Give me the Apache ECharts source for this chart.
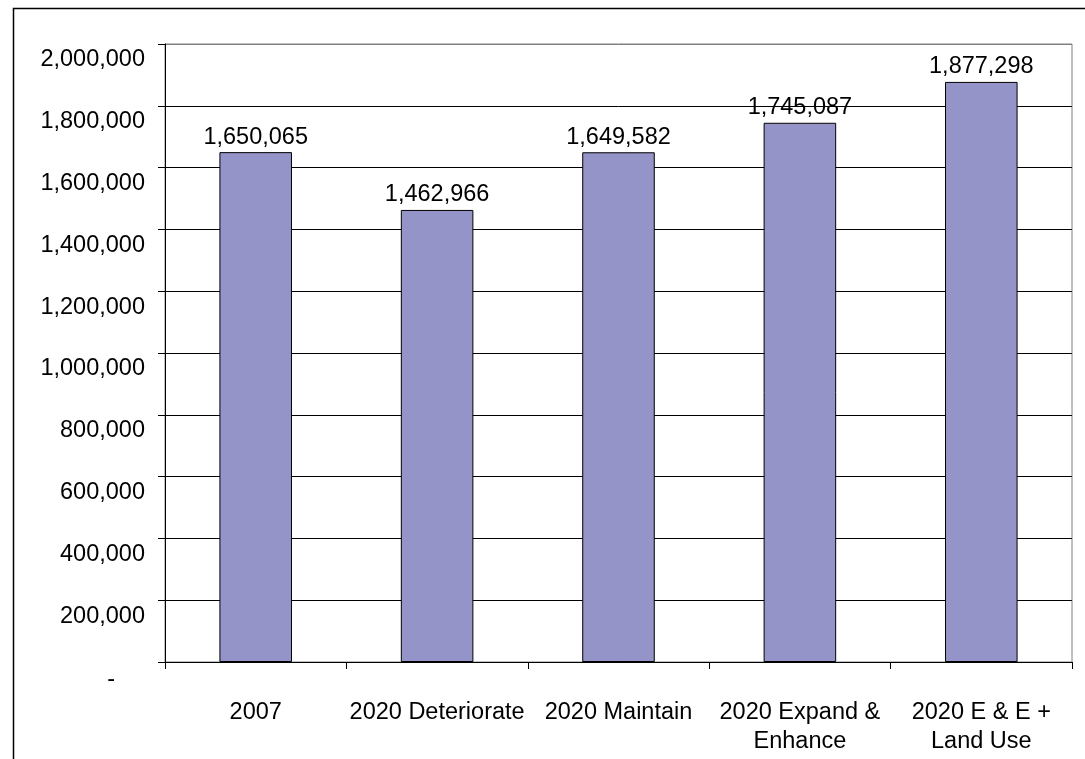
<!DOCTYPE html>
<html><head><meta charset="utf-8">
<script src="https://cdn.jsdelivr.net/npm/echarts@6/dist/echarts.min.js"></script>
<style>html,body{margin:0;padding:0;background:#fff}#c{width:1085px;height:759px}</style>
</head><body><div id="c"></div>
<script>
const categories = ['2007', '2020 Deteriorate', '2020 Maintain', '2020 Expand &\nEnhance', '2020 E & E +\nLand Use'];
const values = [1650065, 1462966, 1649582, 1745087, 1877298];
const yMin = 0, yMax = 2000000, yStep = 200000;

const fmt = v => v.toLocaleString('en-US');
const font = 'Liberation Sans, Arial, sans-serif';
const FS = 23.5;
const splitColors = [];
for (let i = 0; i <= (yMax - yMin) / yStep; i++) splitColors.push(i === (yMax - yMin) / yStep ? '#808080' : '#000');

const chart = echarts.init(document.getElementById('c'), null, {renderer: 'canvas'});
chart.setOption({
  animation: false,
  textStyle: {fontFamily: font},
  graphic: [{type: 'rect', left: 11, top: 6, shape: {width: 1300, height: 900}, style: {fill: 'none', stroke: '#000', lineWidth: 1.5}, z: -1}],
  grid: {left: 165, top: 44, right: 13, bottom: 97, show: true, borderColor: '#808080', borderWidth: 1, backgroundColor: 'transparent'},
  xAxis: {
    type: 'category', data: categories,
    axisLine: {lineStyle: {color: '#000', width: 1}},
    axisTick: {show: true, length: 7, lineStyle: {color: '#000'}},
    axisLabel: {color: '#000', fontSize: FS, margin: 36, lineHeight: 29, fontFamily: font, interval: 0}
  },
  yAxis: {
    type: 'value', min: yMin, max: yMax, interval: yStep,
    axisLine: {show: true, lineStyle: {color: '#000', width: 1}},
    axisTick: {show: true, length: 7, lineStyle: {color: '#000'}},
    splitLine: {show: true, lineStyle: {color: splitColors, width: 1}},
    axisLabel: {
      color: '#000', fontSize: FS, margin: 20, fontFamily: font,
      formatter: v => v === 0 ? '{z|-}' : '{n|' + fmt(v) + '}',
      rich: {
        n: {fontSize: FS, fontFamily: font, color: '#000', padding: [32, 0, 0, 0]},
        z: {fontSize: FS, fontFamily: font, color: '#000', padding: [36, 30, 0, 0]}
      }
    }
  },
  series: [{
    type: 'bar', data: values, barWidth: '40%',
    itemStyle: {color: '#9494c8', borderColor: '#000', borderWidth: 1},
    label: {show: true, position: 'top', distance: 3, color: '#000', fontSize: FS, fontFamily: font, formatter: p => fmt(p.value)}
  }]
});
</script></body></html>
